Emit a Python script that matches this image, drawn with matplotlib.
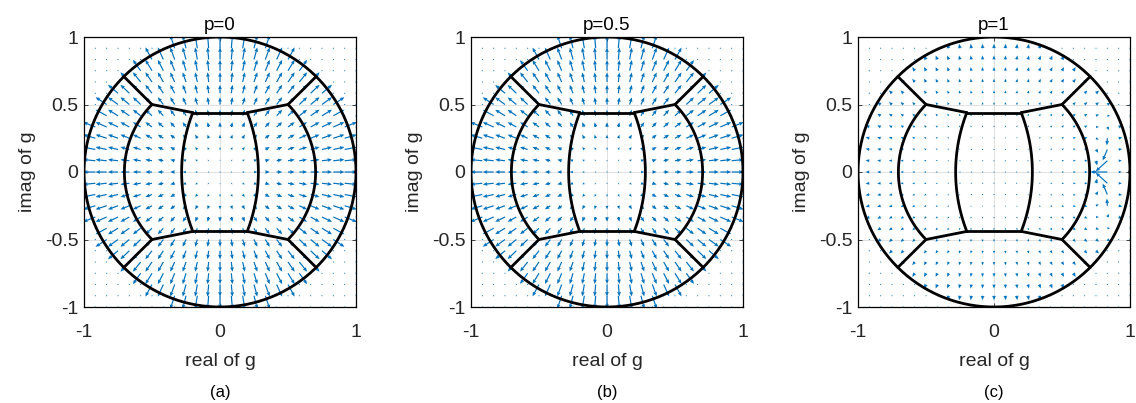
import matplotlib
matplotlib.use('Agg')
import matplotlib.pyplot as plt
import numpy as np

plt.rcParams['font.family']=['Liberation Sans','DejaVu Sans']
plt.rcParams['axes.unicode_minus']=False

#Panel texts.
titles=['p=0','p=0.5','p=1']
captions=['(a)','(b)','(c)']
x_ticks=[-1,0,1]
y_ticks=[-1,-0.5,0,0.5,1]
x_tick_labels=['-1','0','1']
y_tick_labels=['-1','-0.5','0','0.5','1']

#Decision region boundaries (right half, mirrored to the left).
inner_corner=(0.2,0.44)
inner_bulge=0.282
mid_corner=(0.5,0.5)
mid_bulge=0.703

#Quiver grid and field (lengths in data units per unit radius).
grid_n=25
radial_gain_x=[0.098,0.096,0.030]
radial_gain_y=[0.108,0.106,0.036]
outside_gain=[0.006,0.006,0.006]
sink_point=(0.72,0.0)
sink_peak=[0.0,0.0,0.15]
sink_column=0.833
sink_width_left=0.075
sink_width_right=0.045
sink_height=0.28

BLUE='#0072BD'
DARK='#262626'

def right_arc(corner,bulge,n=80):
    #Circle arc through (a,b), (c,0), (a,-b) bulging to the right.
    a,b=corner
    c=bulge
    cx=(a*a+b*b-c*c)/(2*(a-c))
    r=abs(c-cx)
    t_max=np.arcsin(b/r)
    t=np.linspace(-t_max,t_max,n)
    return cx+r*np.cos(t),r*np.sin(t)

def boundary_lines():
    lines=[]
    for sx in (-1,1):
        xs,ys=right_arc(inner_corner,inner_bulge)
        lines.append((sx*xs,ys))
        xs,ys=right_arc(mid_corner,mid_bulge)
        lines.append((sx*xs,ys))
        for sy in (-1,1):
            lines.append(([sx*inner_corner[0],sx*mid_corner[0]],[sy*inner_corner[1],sy*mid_corner[1]]))
            lines.append(([sx*mid_corner[0],sx*np.sqrt(0.5)],[sy*mid_corner[1],sy*np.sqrt(0.5)]))
    for sy in (-1,1):
        lines.append(([-inner_corner[0],inner_corner[0]],[sy*inner_corner[1],sy*inner_corner[1]]))
    return lines

def field(i,X,Y):
    R=np.hypot(X,Y)
    inside=R<1
    U=np.where(inside,radial_gain_x[i]*X,outside_gain[i]*X)
    V=np.where(inside,radial_gain_y[i]*Y,outside_gain[i]*Y)
    if sink_peak[i]>0:
        dx=sink_point[0]-X
        dy=sink_point[1]-Y
        d=np.hypot(dx,dy)+1e-9
        w=np.where(X<sink_column,sink_width_left,sink_width_right)
        m=sink_peak[i]*np.exp(-((X-sink_column)/w)**2)*np.exp(-(Y/sink_height)**2)
        m=np.where(inside,m,0)
        U=U+m*dx/d
        V=V+m*dy/d
    return U,V

fig=plt.figure(figsize=(11.36,4.03),dpi=100)
W,H=1136,403
lefts=[84,471,858]
g=np.linspace(-1,1,grid_n)
X,Y=np.meshgrid(g,g)
theta=np.linspace(0,2*np.pi,400)
for i,left in enumerate(lefts):
    ax=fig.add_axes([left/W,(H-307)/H,272/W,270/H])
    ax.grid(True,color='#DCDCDC',linewidth=0.6,zorder=0)
    ax.set_axisbelow(True)
    U,V=field(i,X,Y)
    ax.quiver(X,Y,U,V,color=BLUE,angles='xy',scale_units='xy',scale=1,
              width=0.0044,headwidth=3.2,headlength=3.8,headaxislength=3.4,zorder=2)
    ax.plot(np.cos(theta),np.sin(theta),color='black',linewidth=2,zorder=3)
    for xs,ys in boundary_lines():
        ax.plot(xs,ys,color='black',linewidth=2,zorder=3,solid_capstyle='round')
    ax.set_xlim(-1,1)
    ax.set_ylim(-1,1)
    ax.set_xticks(x_ticks)
    ax.set_xticklabels(x_tick_labels)
    ax.set_yticks(y_ticks)
    ax.set_yticklabels(y_tick_labels)
    ax.tick_params(direction='in',length=3,width=0.6,top=True,right=True,
                   labelsize=14,colors=DARK)
    ax.tick_params(axis='x',pad=12)
    ax.tick_params(axis='y',pad=4)
    for s in ax.spines.values():
        s.set_color('black')
        s.set_linewidth(0.9)
    ax.set_title(titles[i],fontsize=13.5,color='black',pad=5)
    ax.set_xlabel('real of g',fontsize=14,color=DARK,labelpad=9)
    ax.set_ylabel('imag of g',fontsize=14,color=DARK,labelpad=6)
    fig.text((left+136)/W,(H-392)/H,captions[i],fontsize=12,ha='center',va='center',color='black')

fig.savefig('out.png',dpi=100,facecolor='white')
